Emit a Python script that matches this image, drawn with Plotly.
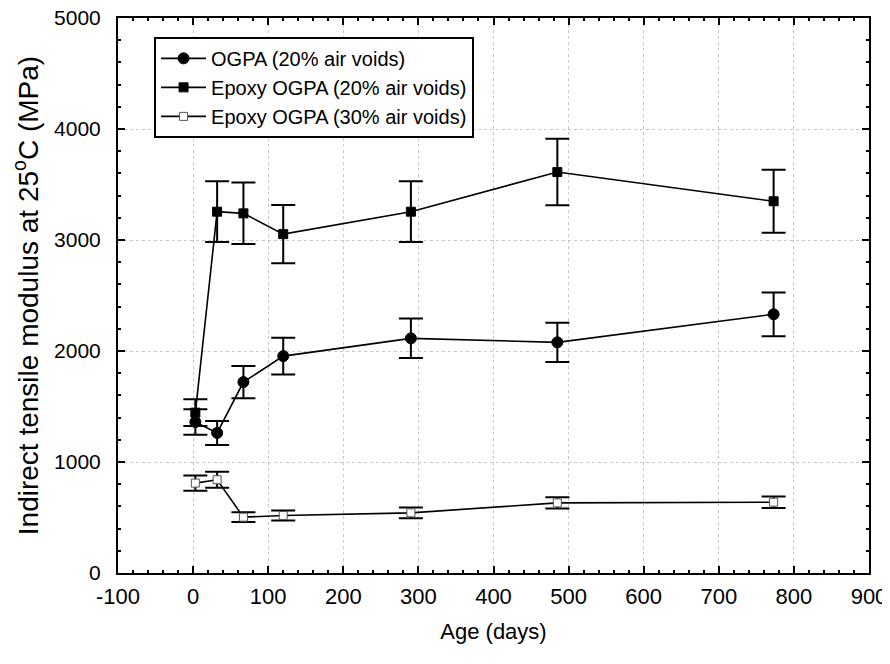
import plotly.graph_objects as go

age = [3, 32, 67, 120, 290, 485, 773]

ogpa20 = [1360, 1262, 1720, 1954, 2114, 2078, 2331]
ogpa20_err = [115, 108, 145, 165, 178, 176, 197]

epoxy20 = [1445, 3255, 3240, 3053, 3255, 3612, 3349]
epoxy20_err = [120, 274, 277, 262, 274, 300, 283]

epoxy30 = [810, 840, 503, 518, 542, 632, 638]
epoxy30_err = [68, 73, 44, 46, 48, 50, 52]

x_tickvals = [-100, 0, 100, 200, 300, 400, 500, 600, 700, 800, 900]
x_ticktext = ["-100", "0", "100", "200", "300", "400", "500", "600", "700", "800", "900"]

names = ["OGPA (20% air voids)", "Epoxy OGPA (20% air voids)", "Epoxy OGPA (30% air voids)"]

fig = go.Figure()

def add(y, err, name, symbol, mcolor, mline, msize):
    fig.add_trace(go.Scatter(
        x=age, y=y, name=name, mode="lines+markers",
        line=dict(color="black", width=1.6),
        marker=dict(symbol=symbol, size=msize, color=mcolor,
                    line=dict(color=mline, width=1)),
        error_y=dict(type="data", array=err, visible=True,
                     color="black", thickness=2, width=12),
    ))

add(ogpa20, ogpa20_err, names[0], "circle", "black", "black", 11)
add(epoxy20, epoxy20_err, names[1], "square", "black", "black", 9)
add(epoxy30, epoxy30_err, names[2], "square", "white", "#555555", 8)

font = "Liberation Sans, Arial, sans-serif"
axis_common = dict(
    showline=True, linecolor="black", linewidth=2, mirror="ticks",
    ticks="inside", ticklen=7, tickwidth=1.5, tickcolor="black",
    showgrid=True, gridcolor="#c8c8c8", griddash="dot", gridwidth=1,
    zeroline=False, automargin=False, ticklabeloverflow="allow",
)

fig.update_xaxes(
    range=[-100, 900], tickmode="array", tickvals=x_tickvals, ticktext=x_ticktext,
    ticklabelstandoff=3,
    tickfont=dict(family=font, size=22, color="black"),
    minor=dict(dtick=20, tick0=0, ticks="inside", ticklen=3, tickcolor="black", showgrid=False),
    title=dict(text="Age (days)", font=dict(family=font, size=22, color="black"), standoff=15),
    **axis_common,
)
fig.update_yaxes(
    range=[0, 5000], dtick=1000, tick0=0, ticklabelstandoff=11,
    tickfont=dict(family=font, size=21, color="black"),
    minor=dict(dtick=200, ticks="inside", ticklen=3, tickcolor="black", showgrid=False),
    title=dict(text="Indirect tensile modulus at 25<sup>o</sup>C (MPa)",
               font=dict(family=font, size=28, color="black"), standoff=8),
    **axis_common,
)

fig.update_layout(
    width=882, height=656,
    margin=dict(l=110, r=21, t=10, b=91),
    paper_bgcolor="white", plot_bgcolor="white",
    showlegend=True,
    legend=dict(
        x=0.048, y=0.966, xanchor="left", yanchor="top",
        bgcolor="white", bordercolor="black", borderwidth=2,
        font=dict(family=font, size=20, color="black"),
        tracegroupgap=0, itemwidth=45,
    ),
    font=dict(family=font, color="black"),
)

fig.write_html("out.html")
